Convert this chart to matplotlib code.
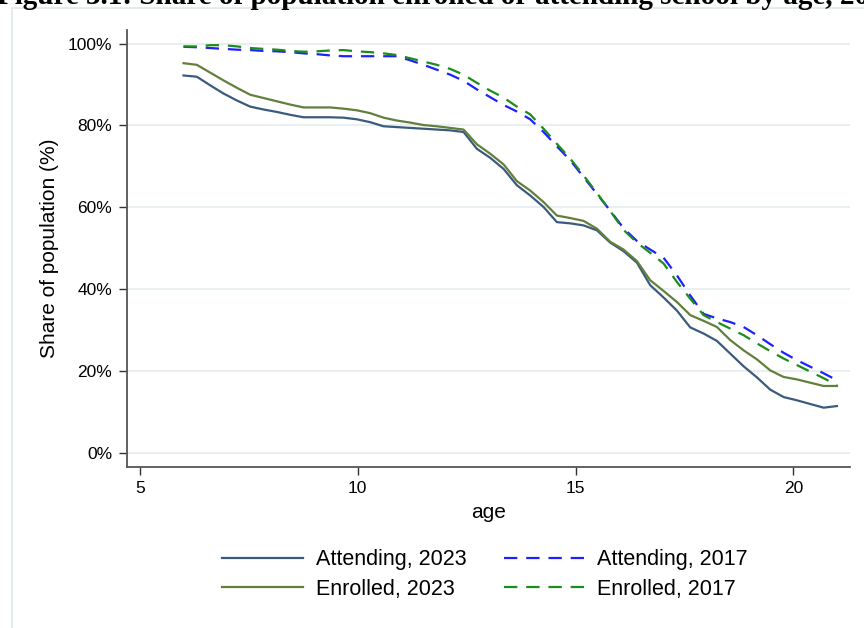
import numpy as np
import matplotlib
matplotlib.use('Agg')
import matplotlib.pyplot as plt
from matplotlib.patches import Rectangle
from matplotlib.ticker import FuncFormatter

# --- Data: share of population (%) by age, 50 points from 6 to 21 ---
AGES = np.linspace(6, 21, 50)

ATTENDING_2023 = [
    92.2, 91.9, 89.8, 87.8, 86.1, 84.6, 83.9, 83.3, 82.6, 82.0,
    82.0, 82.0, 81.9, 81.5, 80.8, 79.8, 79.6, 79.4, 79.2, 79.0,
    78.8, 78.4, 74.3, 72.1, 69.4, 65.4, 62.9, 60.1, 56.4, 56.1,
    55.6, 54.4, 51.4, 49.3, 46.5, 41.0, 38.0, 34.8, 30.7, 29.2,
    27.4, 24.3, 21.2, 18.5, 15.5, 13.7, 12.9, 12.0, 11.1, 11.5,
]
ENROLLED_2023 = [
    95.2, 94.8, 92.9, 91.0, 89.2, 87.5, 86.7, 85.9, 85.1, 84.4,
    84.4, 84.4, 84.1, 83.7, 83.0, 81.9, 81.2, 80.7, 80.1, 79.8,
    79.4, 79.0, 75.4, 73.1, 70.5, 66.4, 64.1, 61.3, 58.0, 57.4,
    56.7, 54.8, 51.6, 49.7, 46.9, 42.2, 39.6, 36.9, 33.7, 32.3,
    30.8, 27.6, 25.1, 22.9, 20.2, 18.6, 18.0, 17.2, 16.4, 16.4,
]
ATTENDING_2017 = [
    99.2, 99.1, 98.9, 98.7, 98.5, 98.4, 98.2, 98.1, 97.9, 97.6,
    97.4, 97.1, 96.9, 96.9, 96.9, 96.9, 96.9, 95.9, 94.8, 93.6,
    92.4, 90.9, 88.8, 86.9, 85.0, 83.4, 81.5, 78.4, 74.9, 71.5,
    67.4, 63.3, 59.2, 54.9, 51.8, 49.7, 47.7, 43.4, 38.5, 34.0,
    32.9, 32.0, 30.8, 28.8, 26.6, 24.5, 22.7, 21.1, 19.5, 17.8,
]
ENROLLED_2017 = [
    99.3, 99.3, 99.6, 99.6, 99.3, 98.9, 98.7, 98.5, 98.2, 98.0,
    98.1, 98.3, 98.4, 98.1, 97.9, 97.6, 97.2, 96.4, 95.6, 94.8,
    93.8, 92.4, 90.4, 88.5, 86.8, 84.6, 82.7, 79.2, 75.5, 71.9,
    67.8, 63.5, 59.1, 54.5, 51.4, 48.9, 46.3, 41.8, 37.7, 33.7,
    32.0, 30.4, 28.8, 26.8, 24.9, 23.1, 21.5, 19.9, 18.3, 16.6,
]

X_TICKS = [5, 10, 15, 20]
Y_TICKS = [0, 20, 40, 60, 80, 100]

SERIES_CONFIG = [
    {'label': 'Attending, 2023', 'values': ATTENDING_2023, 'color': '#3b5b7c', 'style': '-'},
    {'label': 'Enrolled, 2023', 'values': ENROLLED_2023, 'color': '#62803c', 'style': '-'},
    {'label': 'Attending, 2017', 'values': ATTENDING_2017, 'color': '#1f1fff', 'style': '--'},
    {'label': 'Enrolled, 2017', 'values': ENROLLED_2017, 'color': '#1c8c1c', 'style': '--'},
]

TITLE = 'Figure 3.1: Share of population enrolled or attending school by age, 2017 and 2023'

AXIS_COLOR = '#555555'
GRID_COLOR = '#e9eff1'

plt.rcParams['font.family'] = ['Liberation Sans', 'DejaVu Sans']

fig = plt.figure(figsize=(8.64, 6.28), dpi=100)
ax = fig.add_axes([0.1466, 0.2569, 0.8372, 0.6953])

# outer light frame of the graph region
fig.patches.append(Rectangle((12 / 864, -0.1), 1.2, 1.1 - 8.5 / 628,
                             transform=fig.transFigure, fill=False,
                             edgecolor='#e3ebee', linewidth=1.3))

# report caption, only the lower part shows at the top edge
fig.text(-3 / 864, 1 - 4.5 / 628, TITLE, family='Liberation Serif', weight='bold',
         fontsize=21, ha='left', va='baseline', color='black')

for s in SERIES_CONFIG:
    if s['style'] == '--':
        ax.plot(AGES, s['values'], color=s['color'], linewidth=1.6,
                linestyle=(0, (6, 4)), label=s['label'])
    else:
        ax.plot(AGES, s['values'], color=s['color'], linewidth=1.6,
                label=s['label'])

ax.set_xlim(4.695, 21.3)
ax.set_ylim(-3.3, 103.3)
ax.set_xticks(X_TICKS)
ax.set_yticks(Y_TICKS)
ax.yaxis.set_major_formatter(FuncFormatter(lambda v, p: f'{v:.0f}%'))

ax.grid(axis='y', color=GRID_COLOR, linewidth=1.5)
ax.set_axisbelow(True)
for side in ['top', 'right']:
    ax.spines[side].set_visible(False)
for side in ['left', 'bottom']:
    ax.spines[side].set_color(AXIS_COLOR)
    ax.spines[side].set_linewidth(1.3)
ax.tick_params(axis='both', direction='out', length=5.5, width=1.0,
               color='#333333', labelsize=12.5, pad=5)

ax.set_xlabel('age', fontsize=15)
ax.set_ylabel('Share of population (%)', fontsize=15)
ax.xaxis.set_label_coords(0.5, -0.083)
ax.yaxis.set_label_coords(-0.093, 0.5)

ax.legend(ncol=2, loc='upper center', bbox_to_anchor=(485 / 864, 1 - 530 / 628),
          bbox_transform=fig.transFigure, frameon=False, fontsize=15.5,
          handlelength=3.75, handletextpad=0.6, columnspacing=1.75,
          labelspacing=0.4)

plt.savefig('out.png', dpi=100)
